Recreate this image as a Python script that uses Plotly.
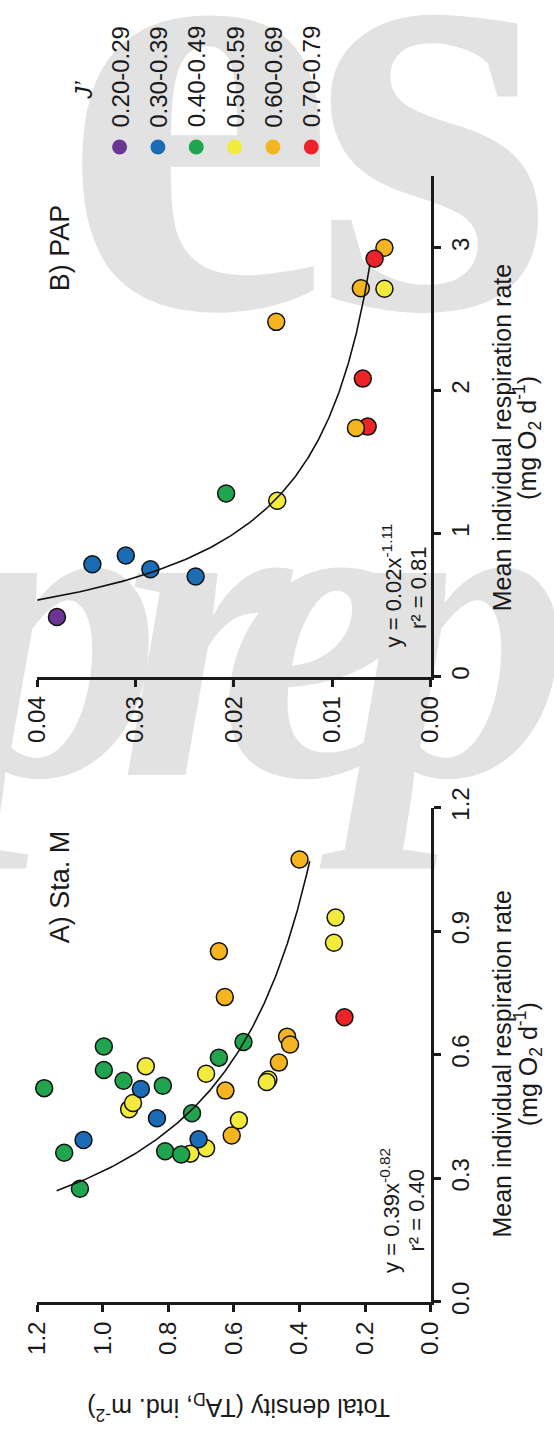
import numpy as np
import plotly.graph_objects as go

W, H = 554, 1442

# ---- J' evenness classes -------------------------------------------------
j_classes = ["0.20-0.29", "0.30-0.39", "0.40-0.49", "0.50-0.59", "0.60-0.69", "0.70-0.79"]
j_colors = ["#6b3596", "#1a6db5", "#20a54e", "#f2ea3c", "#f5b520", "#ec2329"]

# ---- A) Sta. M : mean individual respiration rate vs total density -------
sta_m_resp = [1.074, 0.851, 0.740, 0.644, 0.625, 0.581, 0.513, 0.404,
              0.691,
              0.933, 0.872, 0.540, 0.534, 0.441, 0.554, 0.373, 0.360, 0.572, 0.468, 0.483,
              0.393, 0.517, 0.446, 0.395,
              0.519, 0.362, 0.275, 0.620, 0.563, 0.537, 0.525, 0.366, 0.358, 0.458, 0.593, 0.631]
sta_m_density = [0.400, 0.646, 0.628, 0.438, 0.429, 0.463, 0.626, 0.607,
                 0.263,
                 0.290, 0.295, 0.495, 0.500, 0.585, 0.685, 0.685, 0.733, 0.869, 0.920, 0.908,
                 1.059, 0.884, 0.835, 0.708,
                 1.179, 1.118, 1.070, 0.997, 0.997, 0.937, 0.817, 0.810, 0.761, 0.728, 0.646, 0.571]
sta_m_class = [4, 4, 4, 4, 4, 4, 4, 4,
               5,
               3, 3, 3, 3, 3, 3, 3, 3, 3, 3, 3,
               1, 1, 1, 1,
               2, 2, 2, 2, 2, 2, 2, 2, 2, 2, 2, 2]

# ---- B) PAP --------------------------------------------------------------
pap_resp = [0.417, 0.786, 0.847, 0.751, 0.700, 1.281, 1.231, 2.714,
            2.482, 2.717, 3.000, 2.085, 1.749, 1.739, 2.924]
pap_density = [0.0380, 0.0344, 0.0310, 0.0285, 0.0239, 0.0208, 0.0156, 0.0047,
               0.0157, 0.0071, 0.0047, 0.0069, 0.0064, 0.0076, 0.0057]
pap_class = [0, 1, 1, 1, 1, 2, 3, 3, 4, 4, 4, 5, 5, 4, 5]

# ---- power-law fits: density = a * resp^b ---------------------------------
fit_a_m, fit_b_m, r2_m = 0.39, -0.82, 0.40
fit_a_p, fit_b_p, r2_p = 0.02, -1.11, 0.81
fit_range_m = (0.27, 1.07)
fit_range_p = (0.535, 2.88)

# ---- axis settings --------------------------------------------------------
m_density_ticks = [0.0, 0.2, 0.4, 0.6, 0.8, 1.0, 1.2]
m_resp_ticks = [0.0, 0.3, 0.6, 0.9, 1.2]
p_density_ticks = [0.00, 0.01, 0.02, 0.03, 0.04]
p_resp_ticks = [0, 1, 2, 3]

FONT = "Liberation Sans, Arial, Helvetica, sans-serif"
INK = "#1a1a1a"
WATERMARK = "#e2e2e2"


def px_x(p):
    return p / W


def px_y(p):
    return 1 - p / H


fig = go.Figure()

# pixel-space overlay used for the background watermark and the J' key
fig.add_trace(go.Scatter(
    x=[194, 440], y=[135, 135], mode="text", text=["e", "s"],
    textfont=dict(family="Liberation Serif, serif", size=620, color=WATERMARK, weight="bold"),
    hoverinfo="skip", showlegend=False, xaxis="x", yaxis="y", cliponaxis=False))
fig.add_trace(go.Scatter(
    x=[40, 200, 318, 470, 610], y=[660, 660, 660, 660, 660], mode="text",
    text=["p", "r", "e", "p", "r"],
    textfont=dict(family="Liberation Serif, serif", size=440, color=WATERMARK,
                  weight="bold", style="italic"),
    hoverinfo="skip", showlegend=False, xaxis="x", yaxis="y", cliponaxis=False))

key_x = [111 + 40.3 * i for i in range(len(j_classes))]
fig.add_trace(go.Scatter(
    x=key_x, y=[130] * len(j_classes), mode="markers",
    marker=dict(size=15, color=j_colors, line=dict(width=0)),
    hoverinfo="skip", showlegend=False, xaxis="x", yaxis="y", cliponaxis=False))


def add_panel(resp, dens, cls, a, b, rng, xa, ya):
    fig.add_trace(go.Scatter(
        x=dens, y=resp, mode="markers",
        marker=dict(size=17, color=[j_colors[c] for c in cls],
                    line=dict(width=1.5, color="#111111")),
        showlegend=False, xaxis=xa, yaxis=ya, cliponaxis=False))
    r = np.linspace(rng[0], rng[1], 200)
    fig.add_trace(go.Scatter(
        x=a * r ** b, y=r, mode="lines", line=dict(color="#111111", width=1.6),
        showlegend=False, xaxis=xa, yaxis=ya, cliponaxis=False, hoverinfo="skip"))


add_panel(pap_resp, pap_density, pap_class, fit_a_p, fit_b_p, fit_range_p, "x2", "y2")
add_panel(sta_m_resp, sta_m_density, sta_m_class, fit_a_m, fit_b_m, fit_range_m, "x3", "y3")

x_dom = [px_x(24.5), px_x(438)]
axis_common = dict(showline=True, linewidth=3, linecolor=INK, ticks="outside",
                   ticklen=7, tickwidth=3, tickcolor=INK, showgrid=False,
                   zeroline=False, tickangle=-90,
                   tickfont=dict(family=FONT, size=24, color=INK))

fig.update_layout(
    width=W, height=H, margin=dict(l=0, r=0, t=0, b=0),
    paper_bgcolor="white", plot_bgcolor="rgba(0,0,0,0)",
    font=dict(family=FONT, color=INK),
    xaxis=dict(domain=[0, 1], range=[0, W], visible=False, fixedrange=True),
    yaxis=dict(domain=[0, 1], range=[H, 0], visible=False, fixedrange=True),
    xaxis2=dict(domain=x_dom, range=[0.04, 0], anchor="y2",
                tickvals=p_density_ticks, ticktext=[f"{v:.2f}" for v in p_density_ticks],
                **axis_common),
    yaxis2=dict(domain=[px_y(672), px_y(160)], range=[0, 3.5], anchor="x2", side="right",
                tickvals=p_resp_ticks, ticktext=[str(v) for v in p_resp_ticks],
                **axis_common),
    xaxis3=dict(domain=x_dom, range=[1.2, 0], anchor="y3",
                tickvals=m_density_ticks, ticktext=[f"{v:.1f}" for v in m_density_ticks],
                **axis_common),
    yaxis3=dict(domain=[px_y(1312), px_y(806)], range=[0, 1.2], anchor="x3", side="right",
                tickvals=m_resp_ticks, ticktext=[f"{v:.1f}" for v in m_resp_ticks],
                **axis_common),
)

ann = []


def label(x, y, text, size, angle=-90, **kw):
    ann.append(dict(x=x, y=y, xref="x", yref="y", text=text, showarrow=False,
                    textangle=angle, font=dict(family=FONT, size=size, color=INK),
                    xanchor="center", yanchor="middle", **kw))


# J' key
label(73, 72, "<i>J’</i>", 24)
for kx, name in zip(key_x, j_classes):
    ann.append(dict(x=kx + 1, y=112, xref="x", yref="y", text=name, showarrow=False,
                    textangle=-90, font=dict(family=FONT, size=24, color=INK),
                    xanchor="center", yanchor="bottom"))

# panel titles
label(48, 233, "B) PAP", 27)
label(48, 887, "A) Sta. M", 27)

# fit equations
label(397, 579, f"y = {fit_a_p:.2f}x<sup>{fit_b_p:.2f}</sup>", 22)
label(425, 581, f"r² = {r2_p:.2f}", 22)
label(395, 1218, f"y = {fit_a_m:.2f}x<sup>{fit_b_m:.2f}</sup>", 22)
label(423, 1218, f"r² = {r2_m:.2f}", 22)

# axis titles
for yc in (428, 1069):
    label(513, yc, "Mean individual respiration rate", 25)
    label(540, yc, "(mg O<sub>2</sub> d<sup>-1</sup>)", 25)
label(236, 1420, "Total density (TA<sub>D</sub>, ind. m<sup>-2</sup>)", 25, angle=180)

fig.update_layout(annotations=ann)
fig.write_html("out.html")
